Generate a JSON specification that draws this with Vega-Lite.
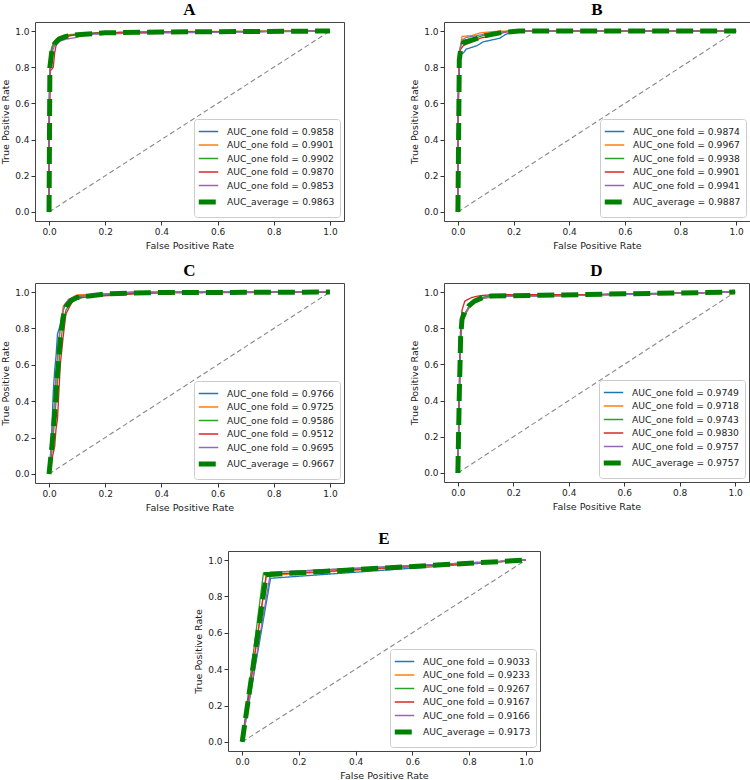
{
"$schema": "https://vega.github.io/schema/vega-lite/v6.json",
"padding": {"left": 0, "top": 0, "right": 0, "bottom": 0},
"background": "white",
"config": {
  "view": {"stroke": "#444", "strokeWidth": 1},
  "axis": {"domain": false, "grid": false, "tickColor": "#333", "tickSize": 4, "labelFont": "DejaVu Sans", "labelFontSize": 9, "labelColor": "#222", "titleFont": "DejaVu Sans", "titleFontSize": 9.5, "titleFontWeight": "normal", "titleColor": "#222", "labelPadding": 2, "titlePadding": 4, "labelFlush": false, "labelOverlap": false, "tickCount": 11},
  "legend": {"orient": "bottom-right", "offset": 4, "labelFont": "DejaVu Sans", "labelFontSize": 9.2, "labelColor": "#222", "symbolType": "M-1.45,0H1.45", "symbolSize": 180, "rowPadding": 0.5, "strokeColor": "#ccc", "fillColor": "white", "padding": 5, "cornerRadius": 3, "labelOffset": 9, "labelLimit": 200},
  "title": {"font": "Liberation Serif", "fontSize": 17, "fontWeight": "bold", "color": "#000", "frame": "group", "offset": 2}
},
"datasets": {
  "diag": [{"x": 0, "y": 0}, {"x": 1, "y": 1}],
  "A": [
    {"s":"AUC_one fold = 0.9858","x":0,"y":0},{"s":"AUC_one fold = 0.9858","x":0,"y":0.45},{"s":"AUC_one fold = 0.9858","x":0.003,"y":0.8},{"s":"AUC_one fold = 0.9858","x":0.008,"y":0.88},{"s":"AUC_one fold = 0.9858","x":0.015,"y":0.92},{"s":"AUC_one fold = 0.9858","x":0.025,"y":0.95},{"s":"AUC_one fold = 0.9858","x":0.04,"y":0.965},{"s":"AUC_one fold = 0.9858","x":0.06,"y":0.975},{"s":"AUC_one fold = 0.9858","x":0.1,"y":0.98},{"s":"AUC_one fold = 0.9858","x":0.15,"y":0.985},{"s":"AUC_one fold = 0.9858","x":0.25,"y":0.99},{"s":"AUC_one fold = 0.9858","x":0.5,"y":0.995},{"s":"AUC_one fold = 0.9858","x":1,"y":1},
    {"s":"AUC_one fold = 0.9901","x":0,"y":0},{"s":"AUC_one fold = 0.9901","x":0,"y":0.5},{"s":"AUC_one fold = 0.9901","x":0.003,"y":0.85},{"s":"AUC_one fold = 0.9901","x":0.008,"y":0.9},{"s":"AUC_one fold = 0.9901","x":0.015,"y":0.935},{"s":"AUC_one fold = 0.9901","x":0.025,"y":0.955},{"s":"AUC_one fold = 0.9901","x":0.04,"y":0.97},{"s":"AUC_one fold = 0.9901","x":0.07,"y":0.98},{"s":"AUC_one fold = 0.9901","x":0.12,"y":0.985},{"s":"AUC_one fold = 0.9901","x":0.2,"y":0.99},{"s":"AUC_one fold = 0.9901","x":0.4,"y":0.997},{"s":"AUC_one fold = 0.9901","x":1,"y":1},
    {"s":"AUC_one fold = 0.9902","x":0,"y":0},{"s":"AUC_one fold = 0.9902","x":0,"y":0.55},{"s":"AUC_one fold = 0.9902","x":0.004,"y":0.86},{"s":"AUC_one fold = 0.9902","x":0.01,"y":0.91},{"s":"AUC_one fold = 0.9902","x":0.02,"y":0.94},{"s":"AUC_one fold = 0.9902","x":0.03,"y":0.955},{"s":"AUC_one fold = 0.9902","x":0.05,"y":0.97},{"s":"AUC_one fold = 0.9902","x":0.08,"y":0.98},{"s":"AUC_one fold = 0.9902","x":0.15,"y":0.99},{"s":"AUC_one fold = 0.9902","x":0.3,"y":0.995},{"s":"AUC_one fold = 0.9902","x":1,"y":1},
    {"s":"AUC_one fold = 0.9870","x":0,"y":0},{"s":"AUC_one fold = 0.9870","x":0,"y":0.4},{"s":"AUC_one fold = 0.9870","x":0.005,"y":0.78},{"s":"AUC_one fold = 0.9870","x":0.015,"y":0.8},{"s":"AUC_one fold = 0.9870","x":0.02,"y":0.88},{"s":"AUC_one fold = 0.9870","x":0.025,"y":0.92},{"s":"AUC_one fold = 0.9870","x":0.035,"y":0.95},{"s":"AUC_one fold = 0.9870","x":0.05,"y":0.965},{"s":"AUC_one fold = 0.9870","x":0.08,"y":0.975},{"s":"AUC_one fold = 0.9870","x":0.12,"y":0.985},{"s":"AUC_one fold = 0.9870","x":0.2,"y":0.99},{"s":"AUC_one fold = 0.9870","x":0.45,"y":0.995},{"s":"AUC_one fold = 0.9870","x":1,"y":1},
    {"s":"AUC_one fold = 0.9853","x":0,"y":0},{"s":"AUC_one fold = 0.9853","x":0,"y":0.5},{"s":"AUC_one fold = 0.9853","x":0.004,"y":0.82},{"s":"AUC_one fold = 0.9853","x":0.01,"y":0.88},{"s":"AUC_one fold = 0.9853","x":0.02,"y":0.92},{"s":"AUC_one fold = 0.9853","x":0.04,"y":0.945},{"s":"AUC_one fold = 0.9853","x":0.06,"y":0.955},{"s":"AUC_one fold = 0.9853","x":0.1,"y":0.965},{"s":"AUC_one fold = 0.9853","x":0.12,"y":0.98},{"s":"AUC_one fold = 0.9853","x":0.2,"y":0.985},{"s":"AUC_one fold = 0.9853","x":0.4,"y":0.99},{"s":"AUC_one fold = 0.9853","x":1,"y":1},
    {"s":"AUC_average = 0.9863","x":0,"y":0},{"s":"AUC_average = 0.9863","x":0.003,"y":0.8},{"s":"AUC_average = 0.9863","x":0.01,"y":0.89},{"s":"AUC_average = 0.9863","x":0.02,"y":0.93},{"s":"AUC_average = 0.9863","x":0.035,"y":0.955},{"s":"AUC_average = 0.9863","x":0.06,"y":0.97},{"s":"AUC_average = 0.9863","x":0.1,"y":0.98},{"s":"AUC_average = 0.9863","x":0.2,"y":0.99},{"s":"AUC_average = 0.9863","x":0.4,"y":0.995},{"s":"AUC_average = 0.9863","x":1,"y":1}
  ],
  "B": [
    {"s":"AUC_one fold = 0.9874","x":0,"y":0},{"s":"AUC_one fold = 0.9874","x":0,"y":0.5},{"s":"AUC_one fold = 0.9874","x":0.005,"y":0.82},{"s":"AUC_one fold = 0.9874","x":0.01,"y":0.87},{"s":"AUC_one fold = 0.9874","x":0.02,"y":0.88},{"s":"AUC_one fold = 0.9874","x":0.03,"y":0.9},{"s":"AUC_one fold = 0.9874","x":0.05,"y":0.91},{"s":"AUC_one fold = 0.9874","x":0.07,"y":0.92},{"s":"AUC_one fold = 0.9874","x":0.09,"y":0.94},{"s":"AUC_one fold = 0.9874","x":0.12,"y":0.95},{"s":"AUC_one fold = 0.9874","x":0.15,"y":0.96},{"s":"AUC_one fold = 0.9874","x":0.17,"y":0.98},{"s":"AUC_one fold = 0.9874","x":0.2,"y":1},{"s":"AUC_one fold = 0.9874","x":1,"y":1},
    {"s":"AUC_one fold = 0.9967","x":0,"y":0},{"s":"AUC_one fold = 0.9967","x":0,"y":0.6},{"s":"AUC_one fold = 0.9967","x":0.005,"y":0.88},{"s":"AUC_one fold = 0.9967","x":0.015,"y":0.97},{"s":"AUC_one fold = 0.9967","x":0.05,"y":0.975},{"s":"AUC_one fold = 0.9967","x":0.08,"y":0.99},{"s":"AUC_one fold = 0.9967","x":0.15,"y":1},{"s":"AUC_one fold = 0.9967","x":1,"y":1},
    {"s":"AUC_one fold = 0.9938","x":0,"y":0},{"s":"AUC_one fold = 0.9938","x":0,"y":0.5},{"s":"AUC_one fold = 0.9938","x":0.005,"y":0.86},{"s":"AUC_one fold = 0.9938","x":0.01,"y":0.92},{"s":"AUC_one fold = 0.9938","x":0.02,"y":0.95},{"s":"AUC_one fold = 0.9938","x":0.06,"y":0.96},{"s":"AUC_one fold = 0.9938","x":0.1,"y":0.98},{"s":"AUC_one fold = 0.9938","x":0.18,"y":1},{"s":"AUC_one fold = 0.9938","x":1,"y":1},
    {"s":"AUC_one fold = 0.9901","x":0,"y":0},{"s":"AUC_one fold = 0.9901","x":0,"y":0.5},{"s":"AUC_one fold = 0.9901","x":0.005,"y":0.85},{"s":"AUC_one fold = 0.9901","x":0.01,"y":0.9},{"s":"AUC_one fold = 0.9901","x":0.02,"y":0.92},{"s":"AUC_one fold = 0.9901","x":0.05,"y":0.94},{"s":"AUC_one fold = 0.9901","x":0.08,"y":0.96},{"s":"AUC_one fold = 0.9901","x":0.12,"y":0.975},{"s":"AUC_one fold = 0.9901","x":0.19,"y":1},{"s":"AUC_one fold = 0.9901","x":1,"y":1},
    {"s":"AUC_one fold = 0.9941","x":0,"y":0},{"s":"AUC_one fold = 0.9941","x":0,"y":0.6},{"s":"AUC_one fold = 0.9941","x":0.005,"y":0.88},{"s":"AUC_one fold = 0.9941","x":0.015,"y":0.95},{"s":"AUC_one fold = 0.9941","x":0.03,"y":0.965},{"s":"AUC_one fold = 0.9941","x":0.07,"y":0.975},{"s":"AUC_one fold = 0.9941","x":0.1,"y":0.985},{"s":"AUC_one fold = 0.9941","x":0.2,"y":1},{"s":"AUC_one fold = 0.9941","x":1,"y":1},
    {"s":"AUC_average = 0.9887","x":0,"y":0},{"s":"AUC_average = 0.9887","x":0.005,"y":0.84},{"s":"AUC_average = 0.9887","x":0.01,"y":0.9},{"s":"AUC_average = 0.9887","x":0.02,"y":0.935},{"s":"AUC_average = 0.9887","x":0.05,"y":0.95},{"s":"AUC_average = 0.9887","x":0.1,"y":0.975},{"s":"AUC_average = 0.9887","x":0.15,"y":0.99},{"s":"AUC_average = 0.9887","x":0.22,"y":1},{"s":"AUC_average = 0.9887","x":1,"y":1}
  ],
  "C": [
    {"s":"AUC_one fold = 0.9766","x":0,"y":0},{"s":"AUC_one fold = 0.9766","x":0.005,"y":0.1},{"s":"AUC_one fold = 0.9766","x":0.01,"y":0.25},{"s":"AUC_one fold = 0.9766","x":0.015,"y":0.45},{"s":"AUC_one fold = 0.9766","x":0.02,"y":0.57},{"s":"AUC_one fold = 0.9766","x":0.025,"y":0.65},{"s":"AUC_one fold = 0.9766","x":0.03,"y":0.77},{"s":"AUC_one fold = 0.9766","x":0.04,"y":0.82},{"s":"AUC_one fold = 0.9766","x":0.05,"y":0.9},{"s":"AUC_one fold = 0.9766","x":0.06,"y":0.94},{"s":"AUC_one fold = 0.9766","x":0.08,"y":0.96},{"s":"AUC_one fold = 0.9766","x":0.1,"y":0.975},{"s":"AUC_one fold = 0.9766","x":0.15,"y":0.985},{"s":"AUC_one fold = 0.9766","x":0.2,"y":0.99},{"s":"AUC_one fold = 0.9766","x":0.3,"y":1},{"s":"AUC_one fold = 0.9766","x":1,"y":1},
    {"s":"AUC_one fold = 0.9725","x":0,"y":0},{"s":"AUC_one fold = 0.9725","x":0.01,"y":0.15},{"s":"AUC_one fold = 0.9725","x":0.02,"y":0.35},{"s":"AUC_one fold = 0.9725","x":0.03,"y":0.6},{"s":"AUC_one fold = 0.9725","x":0.04,"y":0.8},{"s":"AUC_one fold = 0.9725","x":0.05,"y":0.92},{"s":"AUC_one fold = 0.9725","x":0.07,"y":0.96},{"s":"AUC_one fold = 0.9725","x":0.1,"y":0.985},{"s":"AUC_one fold = 0.9725","x":0.2,"y":0.99},{"s":"AUC_one fold = 0.9725","x":0.35,"y":1},{"s":"AUC_one fold = 0.9725","x":1,"y":1},
    {"s":"AUC_one fold = 0.9586","x":0,"y":0},{"s":"AUC_one fold = 0.9586","x":0.01,"y":0.12},{"s":"AUC_one fold = 0.9586","x":0.02,"y":0.3},{"s":"AUC_one fold = 0.9586","x":0.03,"y":0.5},{"s":"AUC_one fold = 0.9586","x":0.04,"y":0.7},{"s":"AUC_one fold = 0.9586","x":0.05,"y":0.83},{"s":"AUC_one fold = 0.9586","x":0.06,"y":0.9},{"s":"AUC_one fold = 0.9586","x":0.08,"y":0.95},{"s":"AUC_one fold = 0.9586","x":0.12,"y":0.97},{"s":"AUC_one fold = 0.9586","x":0.2,"y":0.985},{"s":"AUC_one fold = 0.9586","x":0.35,"y":0.995},{"s":"AUC_one fold = 0.9586","x":1,"y":1},
    {"s":"AUC_one fold = 0.9512","x":0,"y":0},{"s":"AUC_one fold = 0.9512","x":0.01,"y":0.08},{"s":"AUC_one fold = 0.9512","x":0.02,"y":0.15},{"s":"AUC_one fold = 0.9512","x":0.025,"y":0.25},{"s":"AUC_one fold = 0.9512","x":0.03,"y":0.3},{"s":"AUC_one fold = 0.9512","x":0.035,"y":0.45},{"s":"AUC_one fold = 0.9512","x":0.04,"y":0.6},{"s":"AUC_one fold = 0.9512","x":0.05,"y":0.75},{"s":"AUC_one fold = 0.9512","x":0.06,"y":0.88},{"s":"AUC_one fold = 0.9512","x":0.08,"y":0.94},{"s":"AUC_one fold = 0.9512","x":0.1,"y":0.97},{"s":"AUC_one fold = 0.9512","x":0.2,"y":0.98},{"s":"AUC_one fold = 0.9512","x":0.3,"y":0.99},{"s":"AUC_one fold = 0.9512","x":0.45,"y":1},{"s":"AUC_one fold = 0.9512","x":1,"y":1},
    {"s":"AUC_one fold = 0.9695","x":0,"y":0},{"s":"AUC_one fold = 0.9695","x":0.005,"y":0.1},{"s":"AUC_one fold = 0.9695","x":0.015,"y":0.3},{"s":"AUC_one fold = 0.9695","x":0.025,"y":0.55},{"s":"AUC_one fold = 0.9695","x":0.035,"y":0.75},{"s":"AUC_one fold = 0.9695","x":0.045,"y":0.85},{"s":"AUC_one fold = 0.9695","x":0.055,"y":0.93},{"s":"AUC_one fold = 0.9695","x":0.07,"y":0.96},{"s":"AUC_one fold = 0.9695","x":0.1,"y":0.98},{"s":"AUC_one fold = 0.9695","x":0.2,"y":0.99},{"s":"AUC_one fold = 0.9695","x":0.3,"y":1},{"s":"AUC_one fold = 0.9695","x":1,"y":1},
    {"s":"AUC_average = 0.9667","x":0,"y":0},{"s":"AUC_average = 0.9667","x":0.01,"y":0.15},{"s":"AUC_average = 0.9667","x":0.02,"y":0.33},{"s":"AUC_average = 0.9667","x":0.03,"y":0.55},{"s":"AUC_average = 0.9667","x":0.04,"y":0.74},{"s":"AUC_average = 0.9667","x":0.05,"y":0.86},{"s":"AUC_average = 0.9667","x":0.06,"y":0.92},{"s":"AUC_average = 0.9667","x":0.08,"y":0.955},{"s":"AUC_average = 0.9667","x":0.1,"y":0.97},{"s":"AUC_average = 0.9667","x":0.15,"y":0.98},{"s":"AUC_average = 0.9667","x":0.2,"y":0.99},{"s":"AUC_average = 0.9667","x":0.35,"y":0.997},{"s":"AUC_average = 0.9667","x":1,"y":1}
  ],
  "D": [
    {"s":"AUC_one fold = 0.9749","x":0,"y":0},{"s":"AUC_one fold = 0.9749","x":0.005,"y":0.4},{"s":"AUC_one fold = 0.9749","x":0.01,"y":0.75},{"s":"AUC_one fold = 0.9749","x":0.015,"y":0.85},{"s":"AUC_one fold = 0.9749","x":0.025,"y":0.88},{"s":"AUC_one fold = 0.9749","x":0.04,"y":0.92},{"s":"AUC_one fold = 0.9749","x":0.06,"y":0.95},{"s":"AUC_one fold = 0.9749","x":0.09,"y":0.97},{"s":"AUC_one fold = 0.9749","x":0.12,"y":0.98},{"s":"AUC_one fold = 0.9749","x":0.3,"y":0.98},{"s":"AUC_one fold = 0.9749","x":0.6,"y":0.99},{"s":"AUC_one fold = 0.9749","x":1,"y":1},
    {"s":"AUC_one fold = 0.9718","x":0,"y":0},{"s":"AUC_one fold = 0.9718","x":0.005,"y":0.4},{"s":"AUC_one fold = 0.9718","x":0.01,"y":0.72},{"s":"AUC_one fold = 0.9718","x":0.015,"y":0.84},{"s":"AUC_one fold = 0.9718","x":0.025,"y":0.87},{"s":"AUC_one fold = 0.9718","x":0.04,"y":0.91},{"s":"AUC_one fold = 0.9718","x":0.06,"y":0.94},{"s":"AUC_one fold = 0.9718","x":0.09,"y":0.965},{"s":"AUC_one fold = 0.9718","x":0.13,"y":0.975},{"s":"AUC_one fold = 0.9718","x":0.4,"y":0.98},{"s":"AUC_one fold = 0.9718","x":0.7,"y":0.99},{"s":"AUC_one fold = 0.9718","x":1,"y":1},
    {"s":"AUC_one fold = 0.9743","x":0,"y":0},{"s":"AUC_one fold = 0.9743","x":0.005,"y":0.38},{"s":"AUC_one fold = 0.9743","x":0.01,"y":0.72},{"s":"AUC_one fold = 0.9743","x":0.015,"y":0.83},{"s":"AUC_one fold = 0.9743","x":0.025,"y":0.87},{"s":"AUC_one fold = 0.9743","x":0.04,"y":0.92},{"s":"AUC_one fold = 0.9743","x":0.06,"y":0.95},{"s":"AUC_one fold = 0.9743","x":0.09,"y":0.97},{"s":"AUC_one fold = 0.9743","x":0.12,"y":0.98},{"s":"AUC_one fold = 0.9743","x":0.35,"y":0.98},{"s":"AUC_one fold = 0.9743","x":0.65,"y":0.99},{"s":"AUC_one fold = 0.9743","x":1,"y":1},
    {"s":"AUC_one fold = 0.9830","x":0,"y":0},{"s":"AUC_one fold = 0.9830","x":0.005,"y":0.5},{"s":"AUC_one fold = 0.9830","x":0.01,"y":0.82},{"s":"AUC_one fold = 0.9830","x":0.015,"y":0.9},{"s":"AUC_one fold = 0.9830","x":0.025,"y":0.95},{"s":"AUC_one fold = 0.9830","x":0.05,"y":0.97},{"s":"AUC_one fold = 0.9830","x":0.08,"y":0.98},{"s":"AUC_one fold = 0.9830","x":0.12,"y":0.985},{"s":"AUC_one fold = 0.9830","x":0.4,"y":0.985},{"s":"AUC_one fold = 0.9830","x":0.7,"y":0.99},{"s":"AUC_one fold = 0.9830","x":1,"y":1},
    {"s":"AUC_one fold = 0.9757","x":0,"y":0},{"s":"AUC_one fold = 0.9757","x":0.005,"y":0.4},{"s":"AUC_one fold = 0.9757","x":0.01,"y":0.74},{"s":"AUC_one fold = 0.9757","x":0.015,"y":0.85},{"s":"AUC_one fold = 0.9757","x":0.025,"y":0.88},{"s":"AUC_one fold = 0.9757","x":0.04,"y":0.92},{"s":"AUC_one fold = 0.9757","x":0.06,"y":0.945},{"s":"AUC_one fold = 0.9757","x":0.09,"y":0.965},{"s":"AUC_one fold = 0.9757","x":0.13,"y":0.975},{"s":"AUC_one fold = 0.9757","x":0.4,"y":0.98},{"s":"AUC_one fold = 0.9757","x":0.7,"y":0.99},{"s":"AUC_one fold = 0.9757","x":1,"y":1},
    {"s":"AUC_average = 0.9757","x":0,"y":0},{"s":"AUC_average = 0.9757","x":0.005,"y":0.42},{"s":"AUC_average = 0.9757","x":0.01,"y":0.75},{"s":"AUC_average = 0.9757","x":0.015,"y":0.85},{"s":"AUC_average = 0.9757","x":0.025,"y":0.89},{"s":"AUC_average = 0.9757","x":0.04,"y":0.925},{"s":"AUC_average = 0.9757","x":0.06,"y":0.95},{"s":"AUC_average = 0.9757","x":0.09,"y":0.97},{"s":"AUC_average = 0.9757","x":0.12,"y":0.978},{"s":"AUC_average = 0.9757","x":0.3,"y":0.982},{"s":"AUC_average = 0.9757","x":0.6,"y":0.99},{"s":"AUC_average = 0.9757","x":1,"y":1}
  ],
  "E": [
    {"s":"AUC_one fold = 0.9033","x":0,"y":0},{"s":"AUC_one fold = 0.9033","x":0.1,"y":0.9},{"s":"AUC_one fold = 0.9033","x":1,"y":1},
    {"s":"AUC_one fold = 0.9233","x":0,"y":0},{"s":"AUC_one fold = 0.9233","x":0.085,"y":0.915},{"s":"AUC_one fold = 0.9233","x":1,"y":1},
    {"s":"AUC_one fold = 0.9267","x":0,"y":0},{"s":"AUC_one fold = 0.9267","x":0.075,"y":0.93},{"s":"AUC_one fold = 0.9267","x":1,"y":1},
    {"s":"AUC_one fold = 0.9167","x":0,"y":0},{"s":"AUC_one fold = 0.9167","x":0.085,"y":0.92},{"s":"AUC_one fold = 0.9167","x":1,"y":1},
    {"s":"AUC_one fold = 0.9166","x":0,"y":0},{"s":"AUC_one fold = 0.9166","x":0.1,"y":0.933},{"s":"AUC_one fold = 0.9166","x":1,"y":1},
    {"s":"AUC_average = 0.9173","x":0,"y":0},{"s":"AUC_average = 0.9173","x":0.085,"y":0.92},{"s":"AUC_average = 0.9173","x":1,"y":1}
  ]
},
"vconcat": [
  {
    "vconcat": [
      {
        "hconcat": [
          {"width": 309, "height": 199, "title": "A", "layer": [
            {"data": {"name": "diag"}, "mark": {"type": "line", "color": "#888", "strokeDash": [5, 3], "strokeWidth": 1.1}, "encoding": {"x": {"field": "x", "type": "quantitative", "scale": {"domain": [-0.05, 1.05], "nice": false, "zero": false}, "axis": {"title": "False Positive Rate", "values": [0, 0.2, 0.4, 0.6, 0.8, 1], "format": ".1f", "labelOverlap": false, "tickCount": 11}}, "y": {"field": "y", "type": "quantitative", "scale": {"domain": [-0.05, 1.05], "nice": false, "zero": false}, "axis": {"title": "True Positive Rate", "values": [0, 0.2, 0.4, 0.6, 0.8, 1], "format": ".1f", "labelOverlap": false, "tickCount": 11}}}},
            {"data": {"name": "A"}, "mark": {"type": "line", "strokeCap": "butt"}, "encoding": {"x": {"field": "x", "type": "quantitative"}, "y": {"field": "y", "type": "quantitative"}, "order": {"value": null},
              "color": {"field": "s", "type": "nominal", "scale": {"domain": ["AUC_one fold = 0.9858", "AUC_one fold = 0.9901", "AUC_one fold = 0.9902", "AUC_one fold = 0.9870", "AUC_one fold = 0.9853", "AUC_average = 0.9863"], "range": ["#1f77b4", "#ff7f0e", "#2ca02c", "#d62728", "#9467bd", "#008000"]}, "legend": {"title": null}},
              "strokeDash": {"field": "s", "type": "nominal", "scale": {"domain": ["AUC_one fold = 0.9858", "AUC_one fold = 0.9901", "AUC_one fold = 0.9902", "AUC_one fold = 0.9870", "AUC_one fold = 0.9853", "AUC_average = 0.9863"], "range": [[1, 0], [1, 0], [1, 0], [1, 0], [1, 0], [17, 7]]}, "legend": {"title": null}},
              "strokeWidth": {"field": "s", "type": "nominal", "scale": {"type": "ordinal", "domain": ["AUC_one fold = 0.9858", "AUC_one fold = 0.9901", "AUC_one fold = 0.9902", "AUC_one fold = 0.9870", "AUC_one fold = 0.9853", "AUC_average = 0.9863"], "range": [1.3, 1.3, 1.3, 1.3, 1.3, 5]}, "legend": {"title": null}}}}
          ]},
          {"width": 306, "height": 199, "title": "B", "layer": [
            {"data": {"name": "diag"}, "mark": {"type": "line", "color": "#888", "strokeDash": [5, 3], "strokeWidth": 1.1}, "encoding": {"x": {"field": "x", "type": "quantitative", "scale": {"domain": [-0.05, 1.05], "nice": false, "zero": false}, "axis": {"title": "False Positive Rate", "values": [0, 0.2, 0.4, 0.6, 0.8, 1], "format": ".1f", "labelOverlap": false, "tickCount": 11}}, "y": {"field": "y", "type": "quantitative", "scale": {"domain": [-0.05, 1.05], "nice": false, "zero": false}, "axis": {"title": "True Positive Rate", "values": [0, 0.2, 0.4, 0.6, 0.8, 1], "format": ".1f", "labelOverlap": false, "tickCount": 11}}}},
            {"data": {"name": "B"}, "mark": {"type": "line", "strokeCap": "butt"}, "encoding": {"x": {"field": "x", "type": "quantitative"}, "y": {"field": "y", "type": "quantitative"}, "order": {"value": null},
              "color": {"field": "s", "type": "nominal", "scale": {"domain": ["AUC_one fold = 0.9874", "AUC_one fold = 0.9967", "AUC_one fold = 0.9938", "AUC_one fold = 0.9901", "AUC_one fold = 0.9941", "AUC_average = 0.9887"], "range": ["#1f77b4", "#ff7f0e", "#2ca02c", "#d62728", "#9467bd", "#008000"]}, "legend": {"title": null}},
              "strokeDash": {"field": "s", "type": "nominal", "scale": {"domain": ["AUC_one fold = 0.9874", "AUC_one fold = 0.9967", "AUC_one fold = 0.9938", "AUC_one fold = 0.9901", "AUC_one fold = 0.9941", "AUC_average = 0.9887"], "range": [[1, 0], [1, 0], [1, 0], [1, 0], [1, 0], [17, 7]]}, "legend": {"title": null}},
              "strokeWidth": {"field": "s", "type": "nominal", "scale": {"type": "ordinal", "domain": ["AUC_one fold = 0.9874", "AUC_one fold = 0.9967", "AUC_one fold = 0.9938", "AUC_one fold = 0.9901", "AUC_one fold = 0.9941", "AUC_average = 0.9887"], "range": [1.3, 1.3, 1.3, 1.3, 1.3, 5]}, "legend": {"title": null}}}}
          ]}
        ],
        "spacing": 64,
        "resolve": {"scale": {"color": "independent", "strokeDash": "independent", "strokeWidth": "independent", "x": "independent", "y": "independent"}, "legend": {"color": "independent", "strokeDash": "independent", "strokeWidth": "independent"}}
      },
      {
        "hconcat": [
          {"width": 309, "height": 200, "title": "C", "layer": [
            {"data": {"name": "diag"}, "mark": {"type": "line", "color": "#888", "strokeDash": [5, 3], "strokeWidth": 1.1}, "encoding": {"x": {"field": "x", "type": "quantitative", "scale": {"domain": [-0.05, 1.05], "nice": false, "zero": false}, "axis": {"title": "False Positive Rate", "values": [0, 0.2, 0.4, 0.6, 0.8, 1], "format": ".1f", "labelOverlap": false, "tickCount": 11}}, "y": {"field": "y", "type": "quantitative", "scale": {"domain": [-0.05, 1.05], "nice": false, "zero": false}, "axis": {"title": "True Positive Rate", "values": [0, 0.2, 0.4, 0.6, 0.8, 1], "format": ".1f", "labelOverlap": false, "tickCount": 11}}}},
            {"data": {"name": "C"}, "mark": {"type": "line", "strokeCap": "butt"}, "encoding": {"x": {"field": "x", "type": "quantitative"}, "y": {"field": "y", "type": "quantitative"}, "order": {"value": null},
              "color": {"field": "s", "type": "nominal", "scale": {"domain": ["AUC_one fold = 0.9766", "AUC_one fold = 0.9725", "AUC_one fold = 0.9586", "AUC_one fold = 0.9512", "AUC_one fold = 0.9695", "AUC_average = 0.9667"], "range": ["#1f77b4", "#ff7f0e", "#2ca02c", "#d62728", "#9467bd", "#008000"]}, "legend": {"title": null}},
              "strokeDash": {"field": "s", "type": "nominal", "scale": {"domain": ["AUC_one fold = 0.9766", "AUC_one fold = 0.9725", "AUC_one fold = 0.9586", "AUC_one fold = 0.9512", "AUC_one fold = 0.9695", "AUC_average = 0.9667"], "range": [[1, 0], [1, 0], [1, 0], [1, 0], [1, 0], [17, 7]]}, "legend": {"title": null}},
              "strokeWidth": {"field": "s", "type": "nominal", "scale": {"type": "ordinal", "domain": ["AUC_one fold = 0.9766", "AUC_one fold = 0.9725", "AUC_one fold = 0.9586", "AUC_one fold = 0.9512", "AUC_one fold = 0.9695", "AUC_average = 0.9667"], "range": [1.3, 1.3, 1.3, 1.3, 1.3, 5]}, "legend": {"title": null}}}}
          ]},
          {"width": 305, "height": 199, "title": "D", "layer": [
            {"data": {"name": "diag"}, "mark": {"type": "line", "color": "#888", "strokeDash": [5, 3], "strokeWidth": 1.1}, "encoding": {"x": {"field": "x", "type": "quantitative", "scale": {"domain": [-0.05, 1.05], "nice": false, "zero": false}, "axis": {"title": "False Positive Rate", "values": [0, 0.2, 0.4, 0.6, 0.8, 1], "format": ".1f", "labelOverlap": false, "tickCount": 11}}, "y": {"field": "y", "type": "quantitative", "scale": {"domain": [-0.05, 1.05], "nice": false, "zero": false}, "axis": {"title": "True Positive Rate", "values": [0, 0.2, 0.4, 0.6, 0.8, 1], "format": ".1f", "labelOverlap": false, "tickCount": 11}}}},
            {"data": {"name": "D"}, "mark": {"type": "line", "strokeCap": "butt"}, "encoding": {"x": {"field": "x", "type": "quantitative"}, "y": {"field": "y", "type": "quantitative"}, "order": {"value": null},
              "color": {"field": "s", "type": "nominal", "scale": {"domain": ["AUC_one fold = 0.9749", "AUC_one fold = 0.9718", "AUC_one fold = 0.9743", "AUC_one fold = 0.9830", "AUC_one fold = 0.9757", "AUC_average = 0.9757"], "range": ["#1f77b4", "#ff7f0e", "#2ca02c", "#d62728", "#9467bd", "#008000"]}, "legend": {"title": null}},
              "strokeDash": {"field": "s", "type": "nominal", "scale": {"domain": ["AUC_one fold = 0.9749", "AUC_one fold = 0.9718", "AUC_one fold = 0.9743", "AUC_one fold = 0.9830", "AUC_one fold = 0.9757", "AUC_average = 0.9757"], "range": [[1, 0], [1, 0], [1, 0], [1, 0], [1, 0], [17, 7]]}, "legend": {"title": null}},
              "strokeWidth": {"field": "s", "type": "nominal", "scale": {"type": "ordinal", "domain": ["AUC_one fold = 0.9749", "AUC_one fold = 0.9718", "AUC_one fold = 0.9743", "AUC_one fold = 0.9830", "AUC_one fold = 0.9757", "AUC_average = 0.9757"], "range": [1.3, 1.3, 1.3, 1.3, 1.3, 5]}, "legend": {"title": null}}}}
          ]}
        ],
        "spacing": 64,
        "resolve": {"scale": {"color": "independent", "strokeDash": "independent", "strokeWidth": "independent", "x": "independent", "y": "independent"}, "legend": {"color": "independent", "strokeDash": "independent", "strokeWidth": "independent"}}
      }
    ],
    "spacing": 11,
    "resolve": {"scale": {"color": "independent", "strokeDash": "independent", "strokeWidth": "independent", "x": "independent", "y": "independent"}, "legend": {"color": "independent", "strokeDash": "independent", "strokeWidth": "independent"}}
  },
  {
    "hconcat": [
      {"width": 158, "height": 10, "data": {"values": [{"a": 1}]}, "mark": {"type": "point", "opacity": 0}, "view": {"stroke": null}},
      {"width": 312, "height": 200, "title": "E", "layer": [
        {"data": {"name": "diag"}, "mark": {"type": "line", "color": "#888", "strokeDash": [5, 3], "strokeWidth": 1.1}, "encoding": {"x": {"field": "x", "type": "quantitative", "scale": {"domain": [-0.05, 1.05], "nice": false, "zero": false}, "axis": {"title": "False Positive Rate", "values": [0, 0.2, 0.4, 0.6, 0.8, 1], "format": ".1f", "labelOverlap": false, "tickCount": 11}}, "y": {"field": "y", "type": "quantitative", "scale": {"domain": [-0.05, 1.05], "nice": false, "zero": false}, "axis": {"title": "True Positive Rate", "values": [0, 0.2, 0.4, 0.6, 0.8, 1], "format": ".1f", "labelOverlap": false, "tickCount": 11}}}},
        {"data": {"name": "E"}, "mark": {"type": "line", "strokeCap": "butt"}, "encoding": {"x": {"field": "x", "type": "quantitative"}, "y": {"field": "y", "type": "quantitative"}, "order": {"value": null},
          "color": {"field": "s", "type": "nominal", "scale": {"domain": ["AUC_one fold = 0.9033", "AUC_one fold = 0.9233", "AUC_one fold = 0.9267", "AUC_one fold = 0.9167", "AUC_one fold = 0.9166", "AUC_average = 0.9173"], "range": ["#1f77b4", "#ff7f0e", "#2ca02c", "#d62728", "#9467bd", "#008000"]}, "legend": {"title": null}},
          "strokeDash": {"field": "s", "type": "nominal", "scale": {"domain": ["AUC_one fold = 0.9033", "AUC_one fold = 0.9233", "AUC_one fold = 0.9267", "AUC_one fold = 0.9167", "AUC_one fold = 0.9166", "AUC_average = 0.9173"], "range": [[1, 0], [1, 0], [1, 0], [1, 0], [1, 0], [17, 7]]}, "legend": {"title": null}},
          "strokeWidth": {"field": "s", "type": "nominal", "scale": {"type": "ordinal", "domain": ["AUC_one fold = 0.9033", "AUC_one fold = 0.9233", "AUC_one fold = 0.9267", "AUC_one fold = 0.9167", "AUC_one fold = 0.9166", "AUC_average = 0.9173"], "range": [1.3, 1.3, 1.3, 1.3, 1.3, 5]}, "legend": {"title": null}}}}
      ]}
    ],
    "spacing": 0,
    "resolve": {"scale": {"color": "independent", "strokeDash": "independent", "strokeWidth": "independent", "x": "independent", "y": "independent"}, "legend": {"color": "independent", "strokeDash": "independent", "strokeWidth": "independent"}}
  }
],
"spacing": 17,
"resolve": {"scale": {"color": "independent", "strokeDash": "independent", "strokeWidth": "independent", "x": "independent", "y": "independent"}, "legend": {"color": "independent", "strokeDash": "independent", "strokeWidth": "independent"}}
}
